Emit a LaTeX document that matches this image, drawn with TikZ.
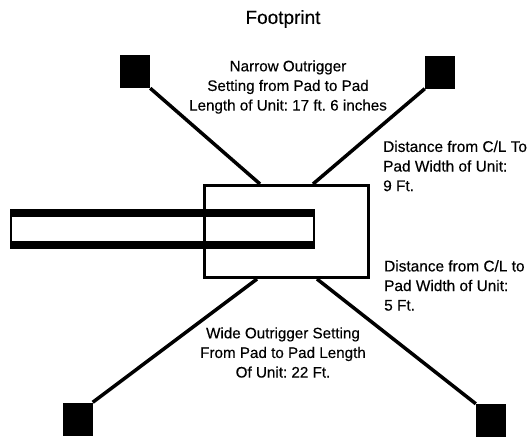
\documentclass[tikz,border=0pt]{standalone}
\usepackage{xcolor}
\usepackage{fontspec}
\setmainfont{Liberation Sans}
\newfontfamily\lblfont[FakeBold=0.3]{Liberation Sans}

\tikzset{
    pad/.style={fill=black, inner sep=0pt, minimum width=30pt, minimum height=33pt},
    arm/.style={line width=3.5pt},
    lbl/.style={inner sep=0pt, font=\lblfont\fontsize{15.2}{19.6}\selectfont\frenchspacing},
    sidelbl/.style={lbl, align=left, anchor=west, font=\lblfont\fontsize{15.4}{19.6}\selectfont\frenchspacing},
}

\begin{document}
\begin{tikzpicture}[x=1pt,y=-1pt]
                \useasboundingbox (0,0) rectangle (529,436);

                \node[lbl, font=\lblfont\fontsize{19}{20}\selectfont] (title) at (283,19) {Footprint};

                \node[pad] (padnw) at (135,71.5) {};
                \node[pad] (padne) at (440,72) {};
                \node[pad] (padsw) at (77.5,419) {};
                \node[pad] (padse) at (491,420.5) {};

                \node[draw, line width=3pt, inner sep=0pt, minimum width=164pt, minimum height=92pt] (frame) at (286,231.5) {};

                \coordinate (armnw) at (260,184);
                \coordinate (armne) at (313,184);
                \coordinate (armsw) at (257,279);
                \coordinate (armse) at (317,279);

                \draw[arm] (padnw.south east) -- (armnw);
                \draw[arm] (padne.south west) -- (armne);
                \draw[arm] (padsw.north east) -- (armsw);
                \draw[arm] (padse.north west) -- (armse);

                % boom
                \node[draw, line width=2.5pt, inner sep=0pt, minimum width=303pt, minimum height=37pt] (boom) at (162.5,229) {};
                \node[fill=black, inner sep=0pt, minimum width=305pt, minimum height=8pt] (boomtop) at (162.5,213) {};
                \node[fill=black, inner sep=0pt, minimum width=305pt, minimum height=8pt] (boombot) at (162.5,245) {};

                \node[lbl, align=center] (narrow) at (288,87) {Narrow Outrigger\\Setting from Pad to Pad\\Length of Unit: 17 ft. 6 inches};
                \node[lbl, align=center] (wide) at (283,352.5) {Wide Outrigger Setting\\From Pad to Pad Length\\Of Unit: 22 Ft.};
                \node[sidelbl] (distnine) at (383,166) {Distance from C/L To\\Pad Width of Unit:\\9 Ft.};
                \node[sidelbl] (distfive) at (384,285.5) {Distance from C/L to\\Pad Width of Unit:\\5 Ft.};
            \end{tikzpicture}
\end{document}
